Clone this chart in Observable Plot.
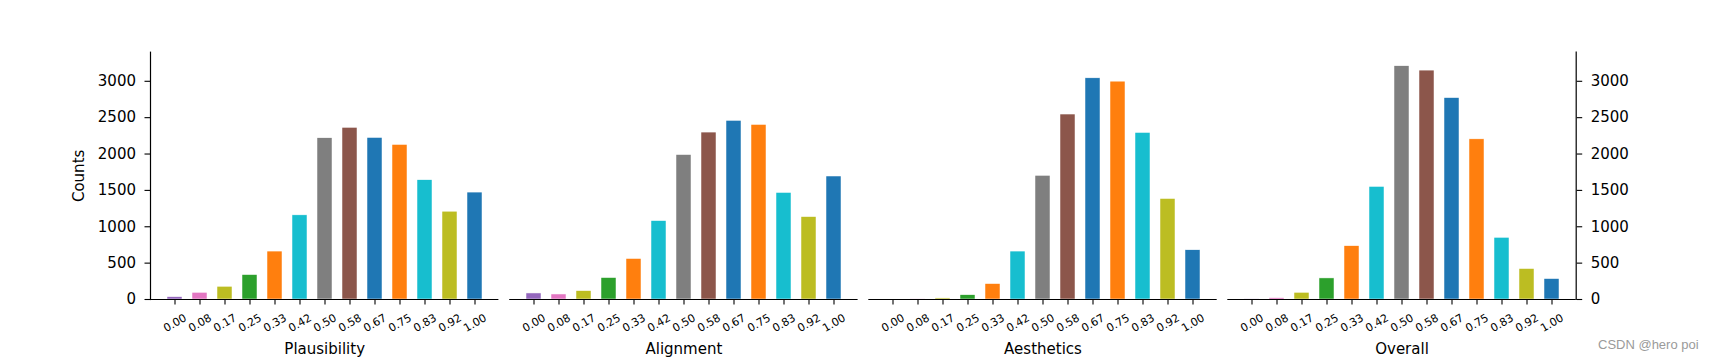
<!DOCTYPE html>
<html>
<head>
<meta charset="utf-8">
<script src="https://cdn.jsdelivr.net/npm/d3@7"></script>
<script src="https://cdn.jsdelivr.net/npm/@observablehq/plot@0.6"></script>
<style>
  html, body { margin: 0; padding: 0; background: white; }
  #chart { position: relative; width: 1715px; height: 361px; background: white; }
  #chart svg { position: absolute; left: 0; top: 0; }
  #wm { position: absolute; left: 1598px; top: 338px; font-family: "Liberation Sans", Arial, sans-serif; font-size: 13px; line-height: 13px; color: #9a9a9a; white-space: nowrap; }
</style>
</head>
<body>
<div id="chart"></div>
<script>
const categories = ["0.00","0.08","0.17","0.25","0.33","0.42","0.50","0.58","0.67","0.75","0.83","0.92","1.00"];
const barColors = ["#9467bd","#e377c2","#bcbd22","#2ca02c","#ff7f0e","#17becf","#7f7f7f","#8c564b","#1f77b4","#ff7f0e","#17becf","#bcbd22","#1f77b4"];
const panelNames = ["Plausibility","Alignment","Aesthetics","Overall"];
const plausibility = [32, 92, 175, 336, 659, 1157, 2217, 2360, 2221, 2125, 1640, 1207, 1470];
const alignment    = [83, 69, 115, 295, 557, 1078, 1986, 2295, 2456, 2400, 1465, 1133, 1691];
const aesthetics   = [0, 2, 15, 59, 212, 659, 1700, 2543, 3041, 2995, 2290, 1382, 677];
const overall      = [2, 18, 92, 290, 733, 1548, 3207, 3147, 2769, 2202, 848, 419, 281];
const yTicks = [0, 500, 1000, 1500, 2000, 2500, 3000];
const yLabel = "Counts";
const watermark = "CSDN @hero poi";

const series = [plausibility, alignment, aesthetics, overall];
const W = 1715, H = 361;
const panelLeft = [150, 509.2, 868.3, 1227.3];
const panelWidth = 348.4;

const chart = document.getElementById("chart");

series.forEach((vals, i) => {
  const data = categories.map((c, j) => ({cat: c, value: vals[j]}));
  const marks = [
    Plot.barY(data, {x: "cat", y: "value", fill: "cat", stroke: "white", strokeWidth: 0.5}),
    Plot.ruleY([0], {stroke: "black", strokeWidth: 1.2}),
    Plot.axisX({label: null, tickSize: 5.5, strokeWidth: 1.1, tickFormat: () => ""}),
    Plot.text(categories, {x: d => d, text: d => d, frameAnchor: "bottom", dy: 23.5, rotate: -30, fontSize: 11, textAnchor: "middle", lineAnchor: "middle"}),
    Plot.text([panelNames[i]], {text: d => d, frameAnchor: "bottom", dy: 50, fontSize: 15, textAnchor: "middle", lineAnchor: "middle"})
  ];
  if (i === 0) {
    marks.push(
      Plot.frame({anchor: "left", stroke: "black", strokeWidth: 1.2}),
      Plot.axisY({anchor: "left", ticks: yTicks, tickFormat: d => String(d), tickSize: 5.5, tickPadding: 9, fontSize: 15, strokeWidth: 1.1, label: null}),
      Plot.text([yLabel], {text: d => d, frameAnchor: "left", dx: -71.5, rotate: -90, fontSize: 15, textAnchor: "middle", lineAnchor: "middle"})
    );
  }
  if (i === 3) {
    marks.push(
      Plot.frame({anchor: "right", stroke: "black", strokeWidth: 1.2}),
      Plot.axisY({anchor: "right", ticks: yTicks, tickFormat: d => String(d), tickSize: 5.5, tickPadding: 9, fontSize: 15, strokeWidth: 1.1, label: null})
    );
  }
  const svg = Plot.plot({
    width: W,
    height: H,
    marginLeft: panelLeft[i],
    marginRight: W - panelLeft[i] - panelWidth,
    marginTop: 51.7,
    marginBottom: 62,
    style: {background: "none", fontFamily: "DejaVu Sans, sans-serif", color: "black", overflow: "visible"},
    x: {type: "band", domain: categories, paddingInner: 0.4, paddingOuter: 0.64, axis: null},
    y: {domain: [0, 3400], axis: null},
    color: {domain: categories, range: barColors},
    marks
  });
  chart.appendChild(svg);
});

const wm = document.createElement("div");
wm.id = "wm";
wm.textContent = watermark;
chart.appendChild(wm);
</script>
</body>
</html>
